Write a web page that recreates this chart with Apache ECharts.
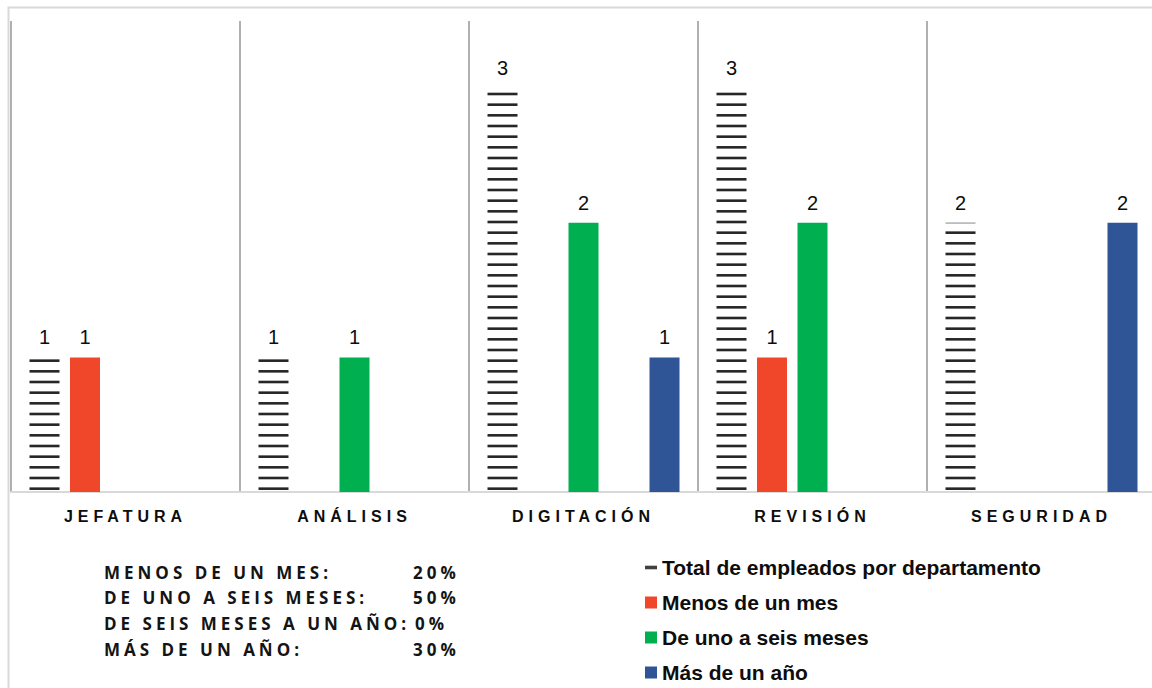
<!DOCTYPE html>
<html>
<head>
<meta charset="utf-8">
<title>Empleados por departamento</title>
<script src="https://cdn.jsdelivr.net/npm/echarts@6/dist/echarts.min.js"></script>
<style>
  html, body { margin: 0; padding: 0; background: #fff; }
  #main { width: 1152px; height: 688px; }
  /* espaciado de letras: etiquetas del eje y bloque de porcentajes */
  #main text[style*="Liberation Sans"] { letter-spacing: 5px; }
  #main text[style*="Open Sans"] { letter-spacing: 4px; }
</style>
</head>
<body>
<div id="main"></div>
<script>
const departamentos = ['JEFATURA', 'ANÁLISIS', 'DIGITACIÓN', 'REVISIÓN', 'SEGURIDAD'];
const totalEmpleados = [1, 1, 3, 3, 2];
const menosDeUnMes = [1, null, null, 1, null];
const deUnoASeisMeses = [null, 1, 2, 2, null];
const deSeisMesesAUnAnio = [null, null, null, null, null];
const masDeUnAnio = [null, null, 1, null, 2];
const resumenEtiquetas = ['MENOS DE UN MES:', 'DE UNO A SEIS MESES:', 'DE SEIS MESES A UN AÑO:', 'MÁS DE UN AÑO:'];

// porcentajes del resumen a partir de los datos
const suma = arr => arr.reduce((s, v) => s + (v || 0), 0);
const total = suma(totalEmpleados);
const resumenValores = [menosDeUnMes, deUnoASeisMeses, deSeisMesesAUnAnio, masDeUnAnio]
  .map(a => Math.round(suma(a) / total * 100) + '%');

// relleno rayado para el total
function rayas() {
  const c = document.createElement('canvas');
  c.width = 30;
  c.height = 32;
  const ctx = c.getContext('2d');
  ctx.fillStyle = '#262626';
  [8.67, 19.33, 30].forEach(y => ctx.fillRect(0, y - 1.3, 30, 2.6));
  return c;
}

const etiqueta = {
  show: true,
  position: 'top',
  distance: 10,
  color: '#0d0d0d',
  fontSize: 20,
  fontFamily: 'Arial'
};

const myChart = echarts.init(document.getElementById('main'), null, {renderer: 'svg'});

const option = {
  animation: false,
  backgroundColor: '#fff',
  grid: {left: 11, top: 21, width: 1145, height: 471, outerBoundsMode: 'none'},
  legend: {
    orient: 'vertical',
    left: 645,
    top: 557,
    padding: 0,
    icon: 'rect',
    itemWidth: 12,
    itemHeight: 12,
    itemGap: 14,
    textStyle: {fontFamily: 'Arial', fontSize: 21, fontWeight: 'bold', color: '#0d0d0d'},
    data: [
      {name: 'Total de empleados por departamento', icon: 'path://M0,0H10V3H0Z', itemStyle: {color: '#404040'}},
      'Menos de un mes',
      'De uno a seis meses',
      'Más de un año'
    ]
  },
  xAxis: {
    type: 'category',
    data: departamentos,
    axisTick: {show: false},
    axisLine: {lineStyle: {color: '#d9d9d9', width: 2}},
    splitLine: {show: true, lineStyle: {color: '#b0b0b0', width: 2}},
    axisLabel: {
      margin: 16,
      color: '#0d0d0d',
      fontFamily: 'Liberation Sans',
      fontSize: 16,
      fontWeight: 'bold'
    }
  },
  yAxis: {
    type: 'value',
    min: 0,
    max: 3.5,
    show: false,
    splitLine: {show: false}
  },
  graphic: [
    {
      type: 'rect',
      silent: true,
      z: -10,
      shape: {x: 8.5, y: 7.5, width: 1300, height: 900},
      style: {fill: 'none', stroke: '#d9d9d9', lineWidth: 2}
    }
  ].concat(resumenEtiquetas.map((t, i) => ({
    type: 'text',
    x: 104,
    y: 572 + i * 25.7,
    style: {text: t, fontFamily: 'Open Sans', fontSize: 17, fontWeight: 'bold', fill: '#141414', verticalAlign: 'middle'}
  }))).concat(resumenValores.map((v, i) => ({
    type: 'text',
    x: i === 2 ? 415 : 413,
    y: 572 + i * 25.7,
    style: {text: v, fontFamily: 'Open Sans', fontSize: 17, fontWeight: 'bold', fill: '#141414', verticalAlign: 'middle'}
  }))),
  series: [
    {
      name: 'Total de empleados por departamento',
      type: 'bar',
      data: totalEmpleados,
      barWidth: 30,
      barGap: '35%',
      itemStyle: {color: {image: rayas(), repeat: 'repeat'}},
      label: etiqueta
    },
    {
      name: 'Menos de un mes',
      type: 'bar',
      data: menosDeUnMes,
      barWidth: 30,
      barGap: '35%',
      itemStyle: {color: '#F0462A'},
      label: etiqueta
    },
    {
      name: 'De uno a seis meses',
      type: 'bar',
      data: deUnoASeisMeses,
      barWidth: 30,
      barGap: '35%',
      itemStyle: {color: '#00B050'},
      label: etiqueta
    },
    {
      name: 'De seis meses a un año',
      type: 'bar',
      data: deSeisMesesAUnAnio,
      barWidth: 30,
      barGap: '35%',
      itemStyle: {color: '#A5A5A5'},
      label: etiqueta
    },
    {
      name: 'Más de un año',
      type: 'bar',
      data: masDeUnAnio,
      barWidth: 30,
      barGap: '35%',
      itemStyle: {color: '#2F5597'},
      label: etiqueta
    }
  ]
};

myChart.setOption(option);
</script>
</body>
</html>
